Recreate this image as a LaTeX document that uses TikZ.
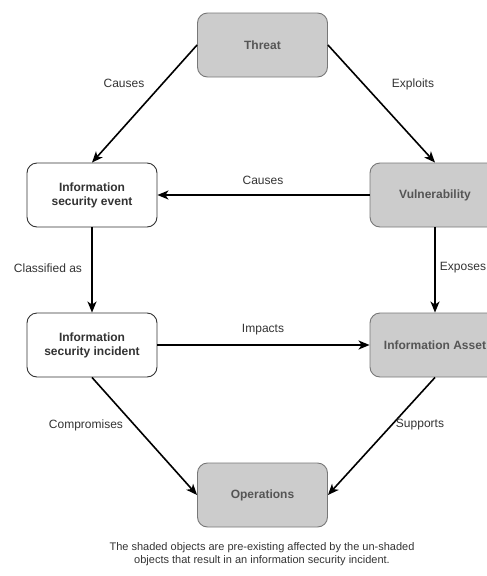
\documentclass[tikz,border=0pt]{standalone}
\usepackage{fontspec}
\setmainfont{Liberation Sans}
\usetikzlibrary{arrows.meta}
\definecolor{shade}{HTML}{CCCCCC}
\definecolor{shadeline}{HTML}{777777}
\definecolor{shadetext}{HTML}{555555}
\definecolor{textdark}{HTML}{333333}
\tikzset{
  box/.style={rectangle, rounded corners=10pt, minimum width=130pt, minimum height=64pt,
    align=center, font=\fontsize{12}{14}\selectfont\bfseries, line width=0.9pt},
  plainbox/.style={box, draw=textdark, fill=white, text=textdark},
  shadedbox/.style={box, draw=shadeline, fill=shade, text=shadetext},
  link/.style={line width=1.6pt, -{Stealth[length=11pt,width=9pt,inset=3pt]}},
  lbl/.style={font=\fontsize{12}{14}\selectfont, text=textdark, inner sep=1pt},
}
\begin{document}
\begin{tikzpicture}[x=1pt,y=-1pt]
\useasboundingbox (0,0) rectangle (487,576);
\clip (0,0) rectangle (487,576);
% objects
\node[shadedbox] (threat) at (262.5,45) {Threat};
\node[plainbox] (event) at (92,195) {Information\\security event};
\node[shadedbox] (vuln) at (435,195) {Vulnerability};
\node[plainbox] (incident) at (92,345) {Information\\security incident};
\node[shadedbox] (asset) at (435,345) {Information Asset};
\node[shadedbox] (ops) at (262.5,495) {Operations};
% relations
\draw[link] (threat.west) -- (event.north);
\draw[link] (threat.east) -- (vuln.north);
\draw[link] (vuln.west) -- (event.east);
\draw[link] (event.south) -- (incident.north);
\draw[link] (vuln.south) -- (asset.north);
\draw[link] (incident.east) -- (asset.west);
\draw[link] (incident.south) -- (ops.west);
\draw[link] (asset.south) -- (ops.east);
% relation labels
\node[lbl] (lcause1) at (124,83) {Causes};
\node[lbl] (lexploit) at (413,84) {Exploits};
\node[lbl] (lcause2) at (263,180) {Causes};
\node[lbl] (lclass) at (48,268) {Classified as};
\node[lbl] (lexpose) at (463,268) {Exposes};
\node[lbl] (limpact) at (263,330) {Impacts};
\node[lbl] (lcomp) at (86,425) {Compromises};
\node[lbl] (lsupport) at (420,425) {Supports};
% note
\node[align=center, font=\fontsize{11}{13}\selectfont, text=textdark] (note) at (262,554)
  {The shaded objects are pre-existing affected by the un-shaded\\objects that result in an information security incident.};
\end{tikzpicture}
\end{document}
